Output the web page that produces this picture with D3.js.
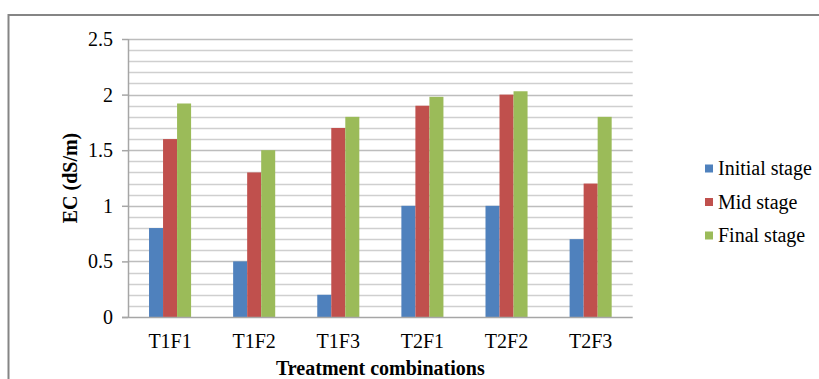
<!DOCTYPE html>
<html>
<head>
<meta charset="utf-8">
<script src="https://cdn.jsdelivr.net/npm/d3@7"></script>
<style>
  html, body { margin: 0; padding: 0; background: #fff; }
  svg { display: block; }
  text { font-family: "Liberation Serif", "Times New Roman", serif; fill: #000; }
</style>
</head>
<body>
<svg id="chart" width="819" height="379"></svg>
<script>
// EC readings (dS/m) for each treatment combination at three growth stages
const categories = ["T1F1", "T1F2", "T1F3", "T2F1", "T2F2", "T2F3"];
const seriesNames = ["Initial stage", "Mid stage", "Final stage"];
const initialStage = [0.8, 0.5, 0.2, 1.0, 1.0, 0.7];
const midStage = [1.6, 1.3, 1.7, 1.9, 2.0, 1.2];
const finalStage = [1.92, 1.5, 1.8, 1.98, 2.03, 1.8];
const yTicks = [0, 0.5, 1, 1.5, 2, 2.5];
const yTickLabels = ["0", "0.5", "1", "1.5", "2", "2.5"];
const seriesColors = ["#4F81BD", "#C0504D", "#9BBB59"];

const seriesValues = [initialStage, midStage, finalStage];
const serif = "'Liberation Serif', 'Times New Roman', serif";

const svg = d3.select("#chart");

// outer chart frame
svg.append("rect")
  .attr("x", 8.5).attr("y", 15)
  .attr("width", 840).attr("height", 420)
  .attr("fill", "none")
  .attr("stroke", "#858585")
  .attr("stroke-width", 2);

const plot = { left: 128, right: 632.7, top: 39, bottom: 317 };

const x0 = d3.scaleBand()
  .domain(categories)
  .range([plot.left, plot.right])
  .paddingInner(0.5)
  .paddingOuter(0.25);

const x1 = d3.scaleBand()
  .domain(seriesNames)
  .range([0, x0.bandwidth()]);

const y = d3.scaleLinear()
  .domain([0, 2.5])
  .range([plot.bottom, plot.top]);

// minor gridlines every 0.1
const minorTicks = d3.range(1, 25).map(i => i / 10).filter(v => Math.abs(v * 2 - Math.round(v * 2)) > 1e-6);
svg.append("g")
  .selectAll("line")
  .data(minorTicks)
  .join("line")
  .attr("x1", plot.left).attr("x2", plot.right)
  .attr("y1", d => Math.round(y(d)) + 0.5)
  .attr("y2", d => Math.round(y(d)) + 0.5)
  .attr("stroke", "#CFCFCF")
  .attr("stroke-width", 1.3);

// major gridlines every 0.5
svg.append("g")
  .selectAll("line")
  .data(yTicks.filter(v => v > 0))
  .join("line")
  .attr("x1", plot.left).attr("x2", plot.right)
  .attr("y1", d => Math.round(y(d)) + 0.5)
  .attr("y2", d => Math.round(y(d)) + 0.5)
  .attr("stroke", "#BDBDBD")
  .attr("stroke-width", 1.5);

// bars
const groups = svg.append("g")
  .selectAll("g")
  .data(categories)
  .join("g")
  .attr("transform", d => `translate(${x0(d)},0)`);

groups.selectAll("rect")
  .data((c, ci) => seriesNames.map((s, si) => ({ s, si, v: seriesValues[si][ci] })))
  .join("rect")
  .attr("x", d => x1(d.s))
  .attr("width", x1.bandwidth())
  .attr("y", d => y(d.v))
  .attr("height", d => y(0) - y(d.v))
  .attr("fill", d => seriesColors[d.si]);

// y axis
const yAxis = d3.axisLeft(y)
  .tickValues(yTicks)
  .tickFormat((d, i) => yTickLabels[i])
  .tickSize(6)
  .tickPadding(9);

const yg = svg.append("g")
  .attr("transform", `translate(${plot.left},0)`)
  .call(yAxis);
yg.attr("font-family", serif).attr("font-size", 20);
yg.select(".domain").attr("stroke", "#A6A6A6").attr("stroke-width", 1.5)
  .attr("d", `M0.5,${plot.top}V${plot.bottom}`);
yg.selectAll(".tick line").attr("stroke", "#A6A6A6").attr("stroke-width", 1.5);
yg.selectAll(".tick text").attr("fill", "#000");

// x axis baseline
const xAxis = d3.axisBottom(x0).tickSize(0).tickPadding(17);
const xg = svg.append("g")
  .attr("transform", `translate(0,${plot.bottom})`)
  .call(xAxis);
xg.attr("font-family", serif).attr("font-size", 20);
xg.select(".domain").attr("stroke", "#A6A6A6").attr("stroke-width", 1.5)
  .attr("d", `M${plot.left - 6},0.5H${plot.right}`);
xg.selectAll(".tick text").attr("fill", "#000");

// axis titles
svg.append("text")
  .attr("x", (plot.left + plot.right) / 2)
  .attr("y", 375)
  .attr("text-anchor", "middle")
  .style("font-size", "20px")
  .style("font-weight", "bold")
  .text("Treatment combinations");

svg.append("text")
  .attr("transform", "translate(77,178) rotate(-90)")
  .attr("text-anchor", "middle")
  .style("font-size", "20px")
  .style("font-weight", "bold")
  .text("EC (dS/m)");

// legend
const legend = svg.append("g")
  .selectAll("g")
  .data(seriesNames)
  .join("g")
  .attr("transform", (d, i) => `translate(705,${168.5 + i * 33.5})`);

legend.append("rect")
  .attr("x", 0).attr("y", -4)
  .attr("width", 8).attr("height", 8)
  .attr("fill", (d, i) => seriesColors[i]);

legend.append("text")
  .attr("x", 13)
  .attr("y", 6.5)
  .style("font-size", "20px")
  .text(d => d);
</script>
</body>
</html>
